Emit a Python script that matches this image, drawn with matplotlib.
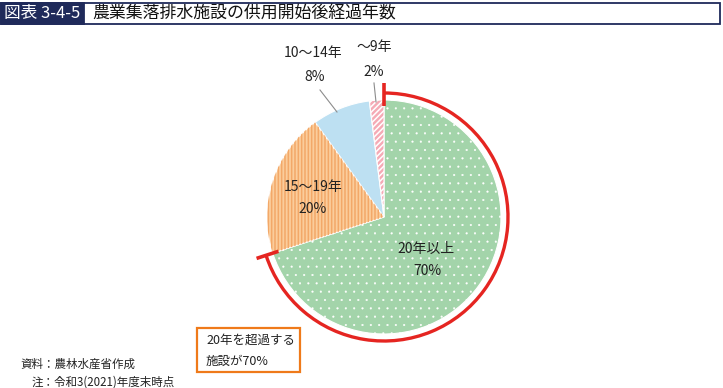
import matplotlib.pyplot as plt
import matplotlib.patches as mpatches
import numpy as np

plt.rcParams['font.family'] = ['Noto Sans CJK JP', 'DejaVu Sans']

# data
categories = ["20年以上", "15～19年", "10～14年", "～9年"]
shares = [70, 20, 8, 2]
pct_labels = ["70%", "20%", "8%", "2%"]

title_tag = "図表 3-4-5"
title = "農業集落排水施設の供用開始後経過年数"
callout = ["20年を超過する", "施設が70%"]
notes = ["資料：農林水産省作成", "注：令和3(2021)年度末時点"]

# styles
face = ["#a3d4aa", "#fbcd9c", "#bde0f2", "#f5aab5"]
hatch = ["..", "|||||", None, "//////"]
hatch_col = ["#ffffff", "#f3a868", None, "#ffffff"]
hatch_lw = [0.3, 1.1, None, 1.1]

W, H = 723, 388


def Y(py):
    return H - py


fig = plt.figure(figsize=(W / 100, H / 100), dpi=100)
ax = fig.add_axes([0, 0, 1, 1])

cx, cy, R = 384, 217, 117
wedges, _ = ax.pie(shares, startangle=90, counterclock=False, colors=face,
                   center=(cx, Y(cy)), radius=R,
                   wedgeprops=dict(edgecolor="white", linewidth=0.8))
for w, h, hc, hl in zip(wedges, hatch, hatch_col, hatch_lw):
    if h is None:
        continue
    plt.rcParams['hatch.linewidth'] = hl
    over = mpatches.Wedge(w.center, w.r, w.theta1, w.theta2, facecolor="none",
                          edgecolor=hc, linewidth=0, hatch=h)
    ax.add_patch(over)

# red bracket arc over the 70% wedge
green = wedges[0]
Rr = 124
ax.add_patch(mpatches.Arc((cx, Y(cy)), 2 * Rr, 2 * Rr, theta1=green.theta1, theta2=green.theta2,
                          color="#e52521", linewidth=2.4, zorder=5))
for ang in (green.theta1, green.theta2):
    a = np.deg2rad(ang)
    ax.plot([cx + 111 * np.cos(a), cx + 134 * np.cos(a)],
            [Y(cy) + 111 * np.sin(a), Y(cy) + 134 * np.sin(a)],
            color="#e52521", linewidth=2.6, solid_capstyle="butt", zorder=5)

# wedge labels
fs = 10
label_pos = [((426, 249), (427, 271)), ((313, 187), (313, 209)),
             ((313, 53), (315, 77)), ((374, 47), (374, 72))]
for cat, pct, (p1, p2) in zip(categories, pct_labels, label_pos):
    ax.text(p1[0], Y(p1[1]), cat, ha="center", va="center", fontsize=fs, color="#222222")
    ax.text(p2[0], Y(p2[1]), pct, ha="center", va="center", fontsize=fs, color="#222222")

# leader lines
ax.plot([320, 337], [Y(90), Y(112)], color="#8c8c8c", linewidth=0.8)
ax.plot([374, 376], [Y(83), Y(102)], color="#8c8c8c", linewidth=0.8)

# callout box
ax.add_patch(mpatches.Rectangle((197, Y(372)), 103, 44, facecolor="white",
                                edgecolor="#ef7a1a", linewidth=1.6))
ax.text(206, Y(340), callout[0], ha="left", va="center", fontsize=9, color="#222222")
ax.text(206, Y(361), callout[1], ha="left", va="center", fontsize=9, color="#222222")

# title bar
ax.add_patch(mpatches.Rectangle((1, Y(24)), 719, 21, facecolor="white",
                                edgecolor="#1f2a5a", linewidth=1.3))
ax.add_patch(mpatches.Rectangle((1, Y(24)), 83, 21, facecolor="#1f2a5a",
                                edgecolor="#1f2a5a", linewidth=1.3))
ax.text(4, Y(13.5), title_tag, ha="left", va="center", fontsize=12, color="white")
ax.text(92, Y(13.5), title, ha="left", va="center", fontsize=12.2, color="#111111")

# notes
ax.text(20, Y(364), notes[0], ha="left", va="center", fontsize=8.3, color="#222222")
ax.text(31.5, Y(382), notes[1], ha="left", va="center", fontsize=8.3, color="#222222")

ax.set_xlim(0, W)
ax.set_ylim(0, H)
ax.set_aspect("equal")
ax.axis("off")

fig.savefig("out.png", dpi=100)
